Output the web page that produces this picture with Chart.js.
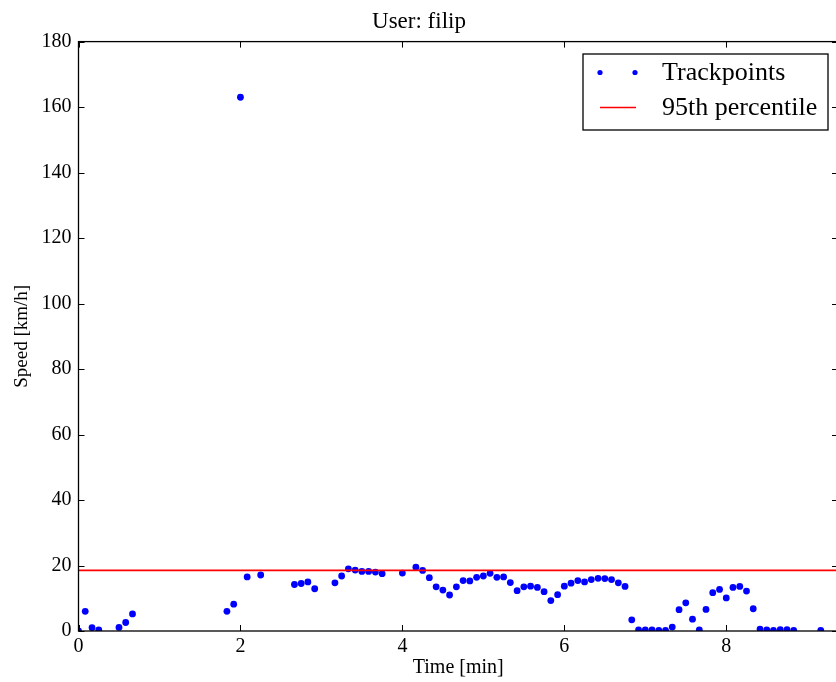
<!DOCTYPE html>
<html>
<head>
<meta charset="utf-8">
<title>Speed</title>
<script src="https://cdn.jsdelivr.net/npm/chart.js@4.4.0/dist/chart.umd.min.js"></script>
<style>
  html, body { margin: 0; padding: 0; background: #fff; overflow: hidden; }
  #wrap { position: relative; width: 850px; height: 682px; }
</style>
</head>
<body>
<div id="wrap"><canvas id="speedChart"></canvas></div>
<script>
  var userName = 'filip';

  // track samples, one every 5 s (time in minutes, speed in km/h)
  var timeMin = [
    0.000, 0.083, 0.167, 0.250, 0.500, 0.583, 0.667,
    1.833, 1.917, 2.000, 2.083, 2.250,
    2.667, 2.750, 2.833, 2.917, 3.167, 3.250, 3.333, 3.417, 3.500, 3.583, 3.667, 3.750,
    4.000, 4.167, 4.250, 4.333, 4.417, 4.500, 4.583, 4.667, 4.750, 4.833, 4.917,
    5.000, 5.083, 5.167, 5.250, 5.333, 5.417, 5.500, 5.583, 5.667, 5.750, 5.833, 5.917,
    6.000, 6.083, 6.167, 6.250, 6.333, 6.417, 6.500, 6.583, 6.667, 6.750, 6.833, 6.917,
    7.000, 7.083, 7.167, 7.250, 7.333, 7.417, 7.500, 7.583, 7.667, 7.750, 7.833, 7.917,
    8.000, 8.083, 8.167, 8.250, 8.333, 8.417, 8.500, 8.583, 8.667, 8.750, 8.833,
    9.167
  ];
  var speedKmh = [
    0.0, 6.0, 1.0, 0.3, 1.1, 2.6, 5.2,
    6.0, 8.2, 163.0, 16.5, 17.1,
    14.2, 14.5, 15.0, 12.9, 14.7, 16.8, 19.0, 18.6, 18.2, 18.2, 18.0, 17.5,
    17.7, 19.5, 18.5, 16.3, 13.5, 12.5, 11.0, 13.5, 15.4, 15.3, 16.4,
    16.8, 17.6, 16.4, 16.5, 14.8, 12.3, 13.5, 13.7, 13.3, 12.0, 9.3, 11.1,
    13.7, 14.6, 15.4, 15.0, 15.7, 16.1, 16.0, 15.7, 14.7, 13.6, 3.4, 0.3,
    0.3, 0.3, 0.2, 0.2, 1.2, 6.5, 8.6, 3.6, 0.3, 6.6, 11.7, 12.7,
    10.1, 13.3, 13.6, 12.2, 6.8, 0.6, 0.3, 0.2, 0.4, 0.4, 0.2,
    0.2
  ];
  var percentile95 = 18.5;

  var timeRange = [0, 9.38];
  var speedRange = [0, 180];
  var timeStep = 2;
  var speedStep = 20;

  var serif = "'Liberation Serif', 'Times New Roman', serif";

  var points = timeMin.map(function(t, i) { return { x: t, y: speedKmh[i] }; });

  // axes box with matplotlib-style inward ticks on all four sides
  var frame = {
    id: 'frame',
    afterDatasetsDraw: function(chart) {
      var ctx = chart.ctx, a = chart.chartArea;
      var xs = chart.scales.x, ys = chart.scales.y;
      var len = 6;
      ctx.save();
      ctx.strokeStyle = '#000';
      ctx.lineWidth = 1;
      ctx.beginPath();
      xs.ticks.forEach(function(t) {
        var px = Math.round(xs.getPixelForValue(t.value)) + 0.5;
        ctx.moveTo(px, a.bottom); ctx.lineTo(px, a.bottom - len);
        ctx.moveTo(px, a.top); ctx.lineTo(px, a.top + len);
      });
      ys.ticks.forEach(function(t) {
        var py = Math.round(ys.getPixelForValue(t.value)) + 0.5;
        ctx.moveTo(a.left, py); ctx.lineTo(a.left + len, py);
        ctx.moveTo(a.right, py); ctx.lineTo(a.right - len, py);
      });
      ctx.stroke();
      ctx.lineWidth = 1.3;
      ctx.strokeRect(a.left, a.top, a.right - a.left, a.bottom - a.top);
      ctx.restore();
    }
  };

  // legend box in the upper right of the plot
  var legendBox = {
    id: 'legendBox',
    afterDraw: function(chart) {
      var ctx = chart.ctx;
      var sets = chart.data.datasets;
      var bx = 583, by = 54, bw = 245, bh = 76;
      ctx.save();
      ctx.fillStyle = '#fff';
      ctx.fillRect(bx, by, bw, bh);
      ctx.strokeStyle = '#000';
      ctx.lineWidth = 1.3;
      ctx.strokeRect(bx, by, bw, bh);

      var pts = sets[1], line = sets[0];
      ctx.fillStyle = pts.backgroundColor;
      [600, 635].forEach(function(cx) {
        ctx.beginPath();
        ctx.arc(cx, 72.5, 2.6, 0, Math.PI * 2);
        ctx.fill();
      });
      ctx.strokeStyle = line.borderColor;
      ctx.lineWidth = line.borderWidth;
      ctx.beginPath();
      ctx.moveTo(600, 107.5); ctx.lineTo(636, 107.5);
      ctx.stroke();

      ctx.fillStyle = '#000';
      ctx.font = '26px ' + serif;
      ctx.textBaseline = 'middle';
      ctx.fillText(pts.label, 662, 73);
      ctx.fillText(line.label, 662, 108);
      ctx.restore();
    }
  };

  new Chart(document.getElementById('speedChart'), {
    type: 'scatter',
    data: {
      datasets: [
        {
          type: 'line',
          label: '95th percentile',
          data: [{ x: timeRange[0], y: percentile95 }, { x: timeRange[1], y: percentile95 }],
          borderColor: '#ff0000',
          borderWidth: 1.6,
          pointRadius: 0,
          order: 1,
          clip: 0
        },
        {
          label: 'Trackpoints',
          data: points,
          backgroundColor: '#0000ff',
          borderWidth: 0,
          pointRadius: 3.4,
          order: 2,
          clip: 0
        }
      ]
    },
    options: {
      responsive: true,
      maintainAspectRatio: false,
      animation: false,
      events: [],
      layout: { padding: { left: 0, right: 12, top: 0, bottom: 0 } },
      plugins: {
        legend: { display: false },
        tooltip: { enabled: false },
        title: {
          display: true,
          text: 'User: ' + userName,
          color: '#000',
          font: { family: serif, size: 23, weight: 'normal' },
          padding: { top: 8, bottom: 6 }
        }
      },
      scales: {
        x: {
          type: 'linear',
          min: timeRange[0],
          max: timeRange[1],
          afterFit: function(s) { s.height = 51; },
          border: { display: false },
          grid: { drawOnChartArea: false, drawTicks: false },
          ticks: {
            stepSize: timeStep,
            includeBounds: false,
            padding: 4,
            color: '#000',
            font: { family: serif, size: 20 }
          },
          title: {
            display: true,
            text: 'Time [min]',
            color: '#000',
            font: { family: serif, size: 20 },
            padding: { top: 0, bottom: 2 }
          }
        },
        y: {
          type: 'linear',
          min: speedRange[0],
          max: speedRange[1],
          afterFit: function(s) { s.width = 78.5; },
          border: { display: false },
          grid: { drawOnChartArea: false, drawTicks: false },
          ticks: {
            stepSize: speedStep,
            padding: 7,
            color: '#000',
            font: { family: serif, size: 20 }
          },
          title: {
            display: true,
            text: 'Speed [km/h]',
            color: '#000',
            font: { family: serif, size: 19 },
            padding: { top: 11, bottom: 0 }
          }
        }
      }
    },
    plugins: [frame, legendBox]
  });
</script>
</body>
</html>
